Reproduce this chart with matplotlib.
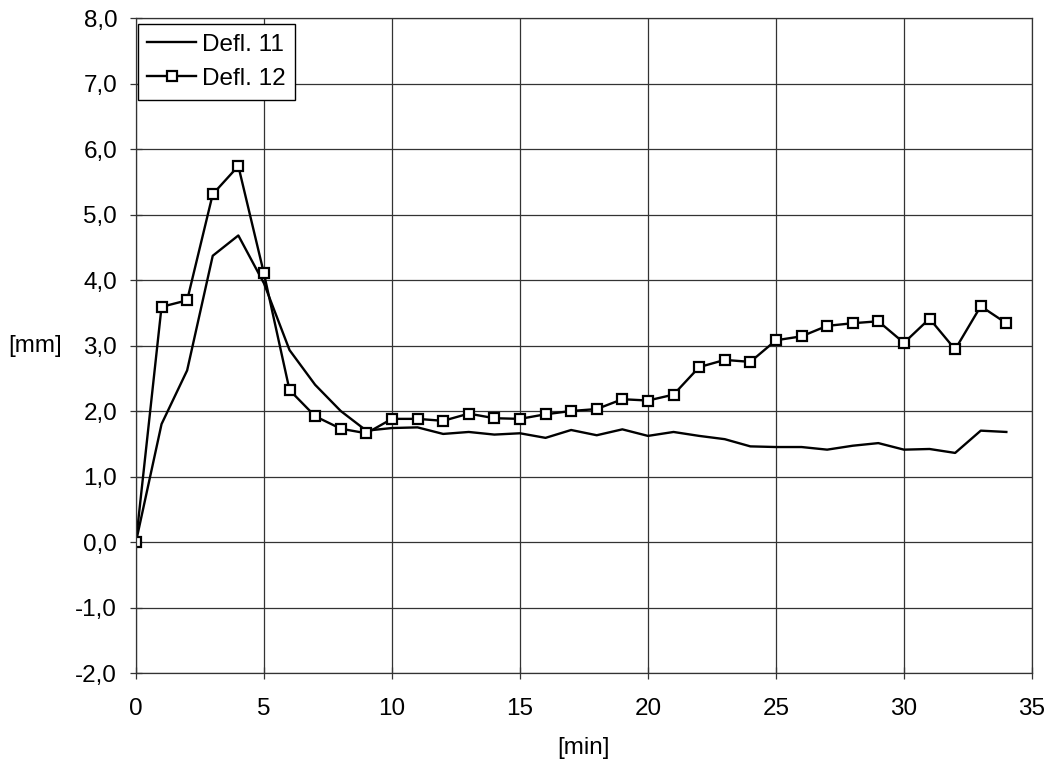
import matplotlib.pyplot as plt
from matplotlib.ticker import FuncFormatter

# time [min]
minutes = list(range(0, 35))

# deflection readings [mm]
defl_11 = [0.00, 1.80, 2.62, 4.37, 4.68, 3.95, 2.93, 2.40, 2.00, 1.70,
           1.74, 1.75, 1.65, 1.68, 1.64, 1.66, 1.59, 1.71, 1.63, 1.72,
           1.62, 1.68, 1.62, 1.57, 1.46, 1.45, 1.45, 1.41, 1.47, 1.51,
           1.41, 1.42, 1.36, 1.70, 1.68]
defl_12 = [0.00, 3.59, 3.69, 5.31, 5.74, 4.10, 2.32, 1.92, 1.73, 1.66,
           1.88, 1.88, 1.85, 1.96, 1.89, 1.88, 1.95, 2.00, 2.03, 2.18,
           2.16, 2.25, 2.67, 2.78, 2.75, 3.08, 3.14, 3.30, 3.34, 3.37,
           3.04, 3.41, 2.94, 3.60, 3.34]

plt.rcParams['font.family'] = ['Liberation Sans', 'DejaVu Sans']
plt.rcParams['font.size'] = 17.5

fig = plt.figure(figsize=(10.62, 7.66), dpi=100)
ax = fig.add_axes([0.128, 0.1214, 0.8437, 0.8551])

ax.plot(minutes, defl_11, color='black', lw=1.7, label='Defl. 11')
ax.plot(minutes, defl_12, color='black', lw=1.7, marker='s', markersize=6.5,
        markerfacecolor='white', markeredgecolor='black', markeredgewidth=1.6,
        label='Defl. 12')

ax.set_xlim(0, 35)
ax.set_ylim(-2, 8)
ax.set_xticks(range(0, 36, 5))
ax.set_yticks(range(-2, 9))
ax.yaxis.set_major_formatter(FuncFormatter(lambda v, p: f'{v:.1f}'.replace('.', ',')))
ax.grid(True, color='#333333', lw=0.9)
ax.set_axisbelow(True)
ax.tick_params(direction='inout', length=8, width=0.9, color='#333333')
ax.tick_params(axis='x', pad=14)
ax.tick_params(axis='y', pad=9.5)
for s in ax.spines.values():
    s.set_color('#333333')
    s.set_linewidth(0.9)

# axis titles, placed like the original spreadsheet chart
ax.set_xlabel('[min]', va='center')
ax.xaxis.set_label_coords(0.5, -0.1145)
ax.set_ylabel('[mm]', rotation=0, ha='center', va='center')
ax.yaxis.set_label_coords(-0.1127, 0.5)

leg = ax.legend(loc='upper left', bbox_to_anchor=(0.002, 0.991), fancybox=False,
                framealpha=1, edgecolor='black', borderaxespad=0.0,
                handlelength=2.0, handletextpad=0.25, borderpad=0.4,
                labelspacing=0.5)
leg.get_frame().set_linewidth(1.0)

fig.savefig('out.png', dpi=100, facecolor='white')
